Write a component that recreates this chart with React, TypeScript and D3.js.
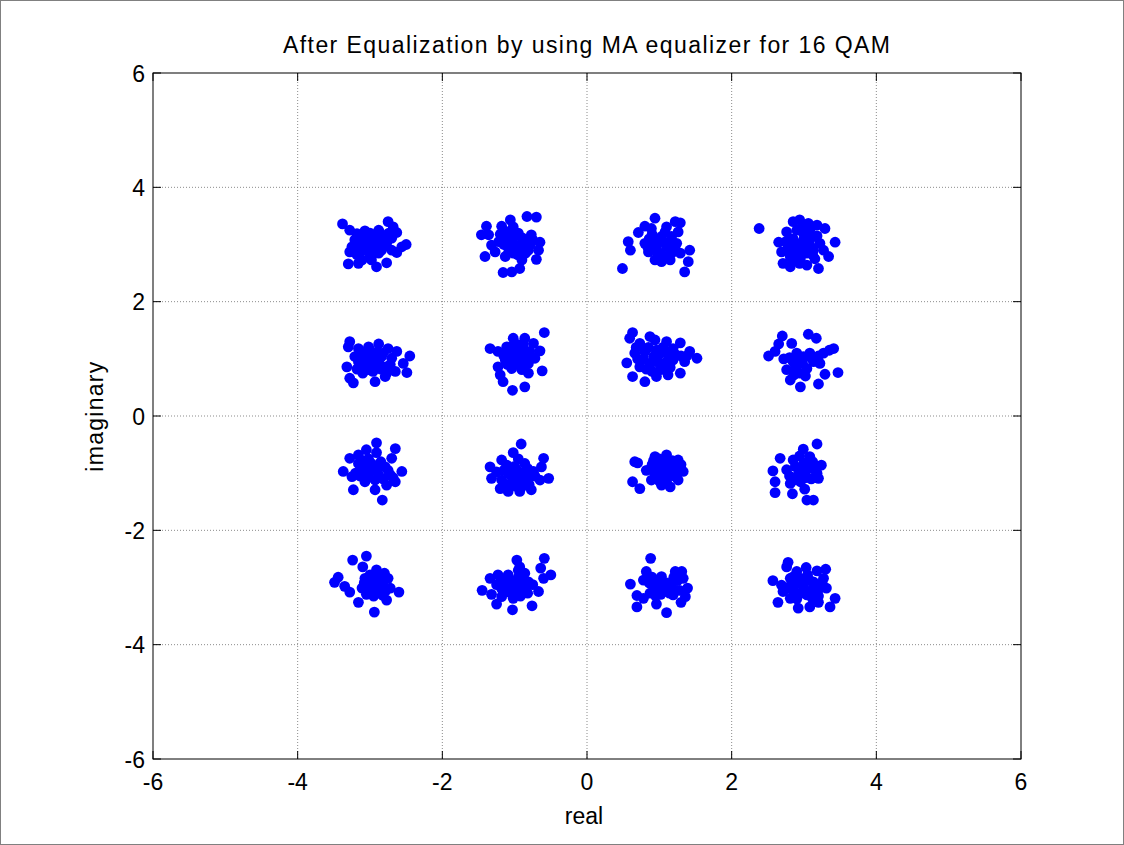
import React from "react";
import * as d3 from "d3";

// received symbols after equalization, grouped by constellation point
const sym_m3_p3: [number, number][] = [
  [-3.38, 3.36], [-3.28, 3.25], [-3.18, 3.19], [-3.07, 3.24], [-2.88, 3.25], [-2.75, 3.4],
  [-2.68, 3.31], [-2.63, 3.21], [-2.7, 3.11], [-2.5, 3.0], [-2.56, 2.96], [-2.63, 2.86],
  [-2.77, 3.02], [-2.84, 2.9], [-2.93, 3.08], [-3.02, 3.11], [-3.11, 3.05], [-3.25, 2.96],
  [-3.28, 2.87], [-3.18, 2.82], [-3.11, 2.73], [-3.3, 2.66], [-3.16, 2.67], [-2.98, 2.73],
  [-2.91, 2.61], [-2.77, 2.68], [-2.88, 2.85], [-3.02, 2.9], [-3.07, 2.96], [-3.21, 3.08],
  [-2.98, 3.02], [-2.82, 3.14], [-2.7, 2.9], [-2.95, 3.0], [-3.05, 3.0], [-2.9, 2.95],
  [-3.1, 2.9], [-2.85, 3.05], [-3.0, 3.2], [-2.92, 3.15], [-3.14, 3.15], [-2.8, 2.98],
  [-3.0, 2.82], [-3.2, 2.95], [-2.86, 3.2], [-3.06, 3.08], [-2.94, 2.9], [-2.74, 3.2],
];
const sym_m1_p3: [number, number][] = [
  [-1.39, 3.32], [-1.46, 3.17], [-1.36, 3.17], [-1.18, 3.32], [-1.06, 3.43], [-1.02, 3.31],
  [-0.83, 3.49], [-0.7, 3.48], [-0.95, 3.2], [-0.77, 3.17], [-0.65, 3.04], [-0.67, 2.9],
  [-0.7, 2.74], [-0.81, 2.9], [-0.9, 3.02], [-1.04, 3.08], [-1.13, 3.14], [-1.22, 3.05],
  [-1.32, 2.99], [-1.41, 2.79], [-1.27, 2.87], [-1.13, 2.79], [-1.02, 2.85], [-0.9, 2.73],
  [-0.93, 2.58], [-1.04, 2.52], [-1.16, 2.51], [-1.09, 2.96], [-0.86, 3.05], [-0.99, 2.93],
  [-1.0, 3.0], [-0.95, 2.95], [-1.05, 3.1], [-0.85, 2.85], [-0.9, 3.12], [-0.78, 3.0],
  [-1.15, 3.0], [-0.98, 3.18], [-0.88, 2.95], [-1.08, 2.88], [-0.75, 3.08], [-1.2, 3.18],
  [-0.96, 2.82], [-1.1, 3.22],
];
const sym_p1_p3: [number, number][] = [
  [0.49, 2.58], [0.57, 3.05], [0.6, 2.9], [0.71, 3.21], [0.8, 3.32], [0.94, 3.46],
  [0.89, 3.28], [1.1, 3.31], [1.22, 3.4], [1.29, 3.38], [1.26, 3.22], [1.24, 3.02],
  [1.19, 2.87], [1.29, 2.85], [1.42, 2.9], [1.4, 2.7], [1.35, 2.52], [1.15, 2.73],
  [1.03, 2.7], [0.94, 2.73], [0.85, 2.87], [0.8, 3.02], [0.92, 3.11], [1.03, 3.14],
  [1.1, 2.96], [0.96, 2.96], [1.17, 3.14], [1.01, 2.85], [0.88, 3.0], [1.05, 3.05],
  [0.98, 2.8], [1.12, 2.8], [0.9, 3.18], [1.08, 3.22], [0.84, 2.95], [1.15, 3.05],
  [0.95, 2.9], [1.2, 2.95], [1.0, 3.08], [0.86, 3.1],
];
const sym_p3_p3: [number, number][] = [
  [2.38, 3.28], [2.65, 3.04], [2.76, 3.22], [2.85, 3.4], [2.94, 3.43], [3.06, 3.37],
  [3.18, 3.34], [3.29, 3.28], [3.43, 3.04], [3.34, 2.79], [3.27, 2.9], [3.2, 2.58],
  [3.04, 2.64], [2.94, 2.67], [2.81, 2.61], [2.71, 2.67], [2.69, 2.87], [2.78, 2.96],
  [2.9, 3.02], [2.99, 3.2], [3.08, 3.08], [3.13, 2.9], [3.22, 3.02], [3.04, 2.85],
  [2.9, 2.85], [2.81, 2.79], [2.99, 2.96], [3.08, 3.25], [2.85, 3.1], [2.95, 2.75],
  [3.15, 2.75], [2.75, 3.05], [2.9, 3.25], [3.0, 3.1], [2.8, 2.9], [3.1, 2.95],
  [2.92, 2.92], [3.02, 3.0], [3.18, 3.15], [2.85, 2.7], [2.98, 3.32], [3.12, 2.82],
];
const sym_m3_p1: [number, number][] = [
  [-3.28, 1.3], [-3.3, 1.21], [-3.16, 1.18], [-3.02, 1.21], [-2.88, 1.26], [-2.75, 1.18],
  [-2.63, 1.13], [-2.45, 1.05], [-2.54, 0.92], [-2.49, 0.76], [-2.65, 0.78], [-2.79, 0.69],
  [-2.93, 0.6], [-3.23, 0.58], [-3.28, 0.66], [-3.32, 0.86], [-3.21, 1.04], [-3.07, 0.98],
  [-2.93, 0.86], [-2.79, 0.86], [-2.7, 1.01], [-2.84, 1.04], [-2.98, 1.1], [-3.11, 0.86],
  [-3.02, 0.81], [-2.77, 0.75], [-3.16, 0.95], [-2.88, 0.95], [-2.95, 1.02], [-3.05, 1.05],
  [-2.9, 1.12], [-3.12, 1.12], [-3.0, 0.92], [-2.85, 0.82], [-3.08, 1.0], [-2.96, 0.78],
  [-3.18, 0.82], [-2.82, 1.1], [-2.72, 0.9], [-3.0, 1.15], [-2.9, 0.9], [-3.1, 0.75],
];
const sym_m1_p1: [number, number][] = [
  [-1.34, 1.18], [-1.23, 1.13], [-1.11, 1.21], [-1.02, 1.36], [-0.86, 1.36], [-0.74, 1.27],
  [-0.65, 1.14], [-0.59, 1.46], [-0.72, 1.01], [-0.81, 0.92], [-0.81, 0.75], [-0.62, 0.79],
  [-0.86, 0.51], [-1.03, 0.45], [-1.16, 0.6], [-1.2, 0.72], [-1.23, 0.86], [-1.13, 0.98],
  [-1.02, 1.07], [-0.9, 1.15], [-0.95, 0.92], [-1.04, 0.83], [-0.9, 0.81], [-1.13, 1.1],
  [-0.79, 1.13], [-0.95, 1.25], [-1.0, 1.0], [-0.85, 1.02], [-1.08, 1.2], [-0.92, 1.05],
  [-1.1, 0.9], [-0.98, 1.12], [-0.88, 1.25], [-1.05, 0.95], [-0.8, 1.05], [-0.95, 1.02],
  [-1.15, 1.05], [-0.9, 0.95], [-1.02, 1.22],
];
const sym_p1_p1: [number, number][] = [
  [0.63, 1.46], [0.59, 1.36], [0.73, 1.27], [0.87, 1.39], [0.94, 1.33], [1.1, 1.3],
  [1.29, 1.28], [1.42, 1.13], [1.52, 1.01], [1.35, 0.95], [1.29, 0.75], [1.12, 0.72],
  [0.96, 0.69], [0.8, 0.6], [0.63, 0.69], [0.55, 0.93], [0.66, 1.1], [0.8, 1.13],
  [0.96, 1.15], [1.1, 1.1], [1.19, 0.98], [1.03, 0.92], [0.87, 0.92], [0.73, 0.86],
  [0.92, 1.04], [1.19, 1.18], [1.01, 0.81], [0.78, 1.0], [1.05, 1.2], [1.3, 1.05],
  [0.9, 0.78], [1.15, 0.85], [0.85, 1.2], [1.0, 1.08], [1.12, 0.98], [0.7, 1.0],
  [1.22, 1.08], [0.95, 0.95], [1.05, 0.82], [0.82, 0.82], [1.38, 1.05], [0.68, 1.2],
];
const sym_p3_p1: [number, number][] = [
  [2.51, 1.05], [2.6, 1.13], [2.65, 1.26], [2.7, 1.4], [2.83, 1.27], [3.06, 1.43],
  [3.17, 1.36], [3.27, 1.1], [3.41, 1.18], [3.22, 0.92], [3.29, 0.73], [3.47, 0.76],
  [3.2, 0.56], [2.95, 0.51], [2.81, 0.63], [2.76, 0.81], [2.85, 0.95], [2.99, 1.04],
  [3.08, 1.1], [2.9, 1.1], [3.04, 0.83], [2.94, 0.75], [3.13, 0.95], [2.72, 1.0],
  [3.35, 1.15], [2.88, 0.85], [2.98, 0.92], [2.8, 1.02], [3.1, 1.02], [2.92, 0.98],
  [3.02, 0.7], [2.86, 0.72], [3.2, 1.05],
];
const sym_m3_m1: [number, number][] = [
  [-2.91, -0.47], [-2.65, -0.57], [-2.91, -0.64], [-3.05, -0.59], [-3.16, -0.68], [-3.28, -0.74],
  [-3.37, -0.97], [-3.25, -1.06], [-3.23, -1.29], [-3.07, -1.15], [-2.93, -1.29], [-2.83, -1.47],
  [-2.77, -1.21], [-2.65, -1.15], [-2.56, -0.97], [-2.7, -0.74], [-2.79, -0.89], [-2.98, -0.83],
  [-3.11, -0.92], [-2.88, -1.03], [-3.02, -1.0], [-2.72, -1.03], [-3.16, -0.83], [-2.93, -1.12],
  [-3.2, -1.0], [-2.85, -0.8], [-3.05, -1.1], [-2.75, -0.95], [-3.1, -0.78], [-2.95, -0.95],
  [-2.82, -1.1], [-3.0, -0.9], [-3.14, -1.05], [-2.88, -0.9], [-3.02, -0.75], [-2.68, -1.08],
  [-3.08, -0.98],
];
const sym_m1_m1: [number, number][] = [
  [-0.91, -0.49], [-1.02, -0.64], [-1.18, -0.77], [-1.34, -0.89], [-1.32, -1.09], [-1.2, -1.27],
  [-1.09, -1.32], [-0.93, -1.32], [-0.77, -1.29], [-0.65, -1.12], [-0.53, -1.09], [-0.63, -0.89],
  [-0.6, -0.74], [-0.74, -0.97], [-0.86, -0.83], [-0.97, -0.94], [-1.09, -1.0], [-1.18, -1.12],
  [-1.02, -1.12], [-0.86, -1.12], [-1.11, -0.86], [-0.9, -1.0], [-1.0, -1.22], [-0.8, -1.2],
  [-1.25, -0.98], [-0.95, -0.75], [-0.72, -1.05], [-1.05, -1.05], [-0.92, -1.1], [-1.15, -0.95],
  [-0.82, -0.92], [-1.0, -0.88], [-0.88, -1.22], [-1.12, -1.2], [-0.98, -1.0], [-0.78, -1.05],
];
const sym_p1_m1: [number, number][] = [
  [0.66, -0.8], [0.63, -1.15], [0.73, -1.27], [0.82, -0.95], [0.94, -0.71], [1.1, -0.68],
  [1.26, -0.77], [1.33, -0.97], [1.26, -1.12], [1.15, -1.24], [1.03, -1.21], [0.89, -1.12],
  [1.01, -0.89], [1.15, -0.95], [1.06, -0.8], [0.94, -1.0], [1.22, -0.89], [1.0, -0.75],
  [1.2, -1.05], [0.9, -0.85], [1.08, -1.08], [1.18, -0.78], [0.98, -1.12], [1.05, -0.95],
  [1.12, -0.88], [0.96, -0.9], [1.25, -1.0], [1.1, -1.15], [0.92, -0.78], [1.3, -0.85],
  [1.02, -1.02], [0.7, -0.82],
];
const sym_p3_m1: [number, number][] = [
  [3.18, -0.49], [2.99, -0.58], [2.67, -0.74], [2.57, -0.96], [2.6, -1.15], [2.6, -1.34],
  [2.84, -1.36], [3.04, -1.47], [3.13, -1.47], [3.01, -1.28], [3.2, -1.09], [3.24, -0.86],
  [3.08, -0.71], [2.85, -0.77], [2.76, -0.94], [2.9, -1.06], [3.04, -0.94], [2.92, -0.92],
  [2.81, -1.18], [3.15, -0.94], [3.0, -0.82], [2.95, -1.15], [3.1, -1.1], [2.8, -1.05],
  [2.98, -1.0], [3.06, -0.86], [2.88, -0.88], [3.12, -0.8], [2.94, -0.7], [2.86, -1.12],
  [3.02, -1.08], [3.18, -1.0],
];
const sym_m3_m3: [number, number][] = [
  [-3.24, -2.52], [-3.05, -2.45], [-3.1, -2.64], [-3.44, -2.82], [-3.49, -2.91], [-3.35, -2.98],
  [-3.28, -3.08], [-3.16, -3.26], [-2.94, -3.43], [-2.77, -3.22], [-2.6, -3.08], [-2.75, -2.84],
  [-2.91, -2.69], [-3.07, -2.84], [-3.02, -3.01], [-2.88, -3.07], [-2.82, -2.96], [-2.98, -2.9],
  [-3.11, -3.01], [-2.88, -2.84], [-2.72, -3.01], [-2.95, -3.15], [-3.05, -3.12], [-2.8, -2.75],
  [-2.92, -2.98], [-3.0, -2.78], [-2.85, -2.9], [-2.96, -2.82], [-3.04, -2.95], [-2.9, -3.1],
  [-2.78, -3.05], [-3.0, -3.05], [-2.86, -2.78], [-3.08, -2.92], [-2.94, -3.0], [-2.82, -3.14],
];
const sym_m1_m3: [number, number][] = [
  [-0.97, -2.52], [-0.93, -2.64], [-0.86, -2.75], [-0.59, -2.49], [-0.64, -2.66], [-0.5, -2.78],
  [-0.6, -2.84], [-0.67, -3.07], [-0.76, -3.32], [-1.03, -3.39], [-1.25, -3.29], [-1.32, -3.12],
  [-1.45, -3.05], [-1.34, -2.84], [-1.23, -2.78], [-1.09, -2.78], [-1.11, -2.98], [-0.97, -2.96],
  [-0.86, -3.01], [-1.18, -3.16], [-1.02, -3.19], [-0.81, -2.9], [-1.25, -2.95], [-0.92, -3.15],
  [-1.05, -2.88], [-0.75, -2.95], [-0.95, -2.82], [-1.15, -2.88], [-1.0, -3.05], [-0.88, -2.92],
  [-1.08, -3.08], [-0.95, -2.7], [-0.82, -3.1], [-1.18, -3.02], [-1.02, -2.92], [-0.9, -3.02],
];
const sym_p1_m3: [number, number][] = [
  [0.88, -2.49], [0.6, -2.94], [0.82, -2.72], [0.78, -2.87], [0.69, -3.14], [0.69, -3.34],
  [0.96, -3.29], [1.1, -3.44], [1.3, -3.26], [1.36, -3.16], [1.39, -3.01], [1.33, -2.84],
  [1.22, -2.72], [1.31, -2.72], [1.03, -2.81], [0.92, -2.98], [1.06, -3.07], [1.17, -2.98],
  [0.87, -3.1], [0.78, -3.19], [1.19, -3.13], [1.0, -2.9], [1.25, -2.88], [0.95, -3.15],
  [0.86, -2.92], [1.1, -2.92], [1.02, -3.12], [1.28, -3.05], [0.9, -2.82], [1.14, -3.1],
  [0.98, -3.0], [1.2, -2.82],
];
const sym_p3_m3: [number, number][] = [
  [2.78, -2.56], [2.76, -2.64], [2.57, -2.88], [2.69, -2.96], [2.64, -3.26], [2.92, -3.36],
  [3.08, -3.34], [3.2, -3.26], [3.36, -3.34], [3.43, -3.19], [3.31, -3.01], [3.3, -2.68],
  [3.18, -2.71], [3.03, -2.65], [2.9, -2.72], [2.81, -2.84], [2.85, -3.07], [2.99, -2.96],
  [3.13, -2.9], [3.22, -3.01], [3.04, -3.13], [2.81, -3.19], [2.71, -3.07], [3.27, -2.84],
  [2.95, -2.84], [3.1, -3.05], [2.9, -3.2], [3.2, -3.15], [3.05, -2.78], [2.88, -2.95],
  [3.0, -3.05], [3.15, -2.98], [2.78, -3.0], [3.08, -2.88], [2.96, -3.1], [3.25, -2.92],
  [2.84, -2.82], [3.12, -3.2],
];

const symbols = [
  ...sym_m3_p3, ...sym_m1_p3, ...sym_p1_p3, ...sym_p3_p3,
  ...sym_m3_p1, ...sym_m1_p1, ...sym_p1_p1, ...sym_p3_p1,
  ...sym_m3_m1, ...sym_m1_m1, ...sym_p1_m1, ...sym_p3_m1,
  ...sym_m3_m3, ...sym_m1_m3, ...sym_p1_m3, ...sym_p3_m3,
];

const xTicks = [-6, -4, -2, 0, 2, 4, 6];
const yTicks = [-6, -4, -2, 0, 2, 4, 6];
const title = "After Equalization by using MA equalizer for 16 QAM";

const W = 1124;
const H = 845;
const left = 153;
const right = 1021;
const top = 73;
const bottom = 759;

export default function App() {
  const x = d3.scaleLinear().domain([-6, 6]).range([left, right]);
  const y = d3.scaleLinear().domain([-6, 6]).range([bottom, top]);
  const font = "Arial, 'Liberation Sans', sans-serif";
  const tick = 8;
  const fs = 23;

  return (
    <svg
      width={W}
      height={H}
      style={{ position: "absolute", left: 0, top: 0, background: "#fff" }}
      fontFamily={font}
    >
      <rect x={0.5} y={0.5} width={W - 1} height={H - 1} fill="#fff" stroke="#808080" />

      {/* grid */}
      {xTicks.slice(1, -1).map((t) => (
        <line key={"gx" + t} x1={x(t)} x2={x(t)} y1={top} y2={bottom}
          stroke="#5a5a5a" strokeWidth={0.7} strokeDasharray="1,2" />
      ))}
      {yTicks.slice(1, -1).map((t) => (
        <line key={"gy" + t} x1={left} x2={right} y1={y(t)} y2={y(t)}
          stroke="#5a5a5a" strokeWidth={0.7} strokeDasharray="1,2" />
      ))}

      {/* points */}
      {symbols.map(([re, im], i) => (
        <circle key={i} cx={x(re)} cy={y(im)} r={5.4} fill="#0000ff" />
      ))}

      {/* box and ticks */}
      <rect x={left} y={top} width={right - left} height={bottom - top} fill="none" stroke="#000" strokeWidth={1} />
      {xTicks.map((t) => (
        <g key={"tx" + t}>
          <line x1={x(t)} x2={x(t)} y1={bottom} y2={bottom - tick} stroke="#000" />
          <line x1={x(t)} x2={x(t)} y1={top} y2={top + tick} stroke="#000" />
          <text x={x(t)} y={790} fontSize={fs} textAnchor="middle">{t}</text>
        </g>
      ))}
      {yTicks.map((t) => (
        <g key={"ty" + t}>
          <line x1={left} x2={left + tick} y1={y(t)} y2={y(t)} stroke="#000" />
          <line x1={right} x2={right - tick} y1={y(t)} y2={y(t)} stroke="#000" />
          <text x={left - 8} y={y(t) + 8.5} fontSize={fs} textAnchor="end">{t}</text>
        </g>
      ))}

      <text x={586.5} y={53} fontSize={fs} textAnchor="middle" textLength={607} lengthAdjust="spacing">
        {title}
      </text>
      <text x={584} y={824} fontSize={fs} textAnchor="middle">real</text>
      <text transform={`translate(103, 416.7) rotate(-90)`} fontSize={fs} textAnchor="middle"
        textLength={110} lengthAdjust="spacing">
        imaginary
      </text>
    </svg>
  );
}
